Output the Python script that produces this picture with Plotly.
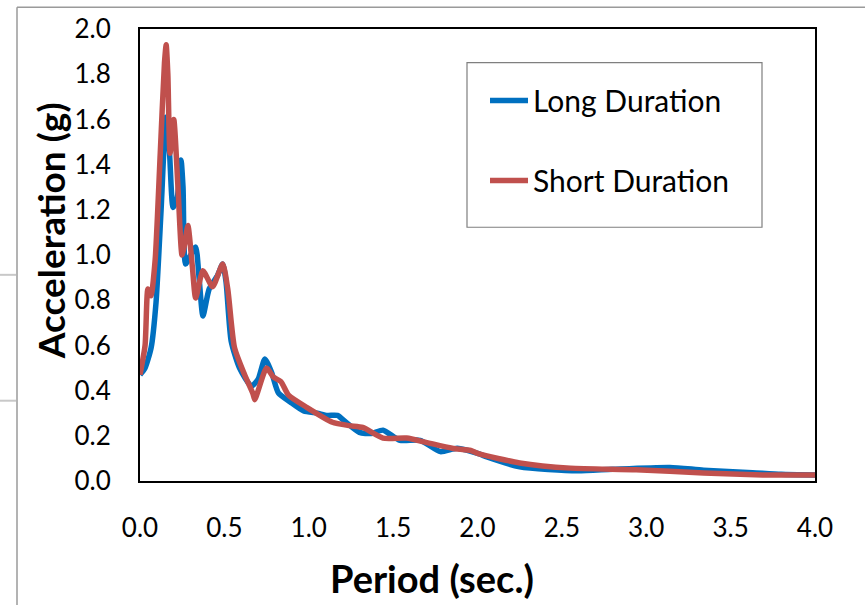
import plotly.graph_objects as go

# Long Duration (blue)
long_period = [0.0, 0.03, 0.066, 0.095, 0.125, 0.154, 0.175, 0.196, 0.22, 0.243, 0.255, 0.27, 0.3, 0.33, 0.35,
               0.373, 0.41, 0.46, 0.49, 0.51, 0.54, 0.59, 0.66, 0.7, 0.74, 0.78, 0.82, 0.89, 0.97, 1.05,
               1.11, 1.17, 1.22, 1.30, 1.37, 1.44, 1.54, 1.66, 1.78, 1.88, 2.01, 2.06, 2.25, 2.59, 2.80,
               3.14, 3.34, 3.63, 3.8, 4.0]
long_acc = [0.47, 0.50, 0.59, 0.79, 1.20, 1.61, 1.45, 1.21, 1.25, 1.42, 1.30, 0.96, 1.00, 1.035, 0.90,
            0.73, 0.85, 0.91, 0.96, 0.88, 0.62, 0.50, 0.42, 0.45, 0.54, 0.48, 0.39, 0.35, 0.31, 0.30,
            0.29, 0.29, 0.26, 0.215, 0.21, 0.225, 0.18, 0.18, 0.13, 0.145, 0.12, 0.105, 0.063, 0.045, 0.052,
            0.06, 0.048, 0.037, 0.03, 0.027]

# Short Duration (red)
short_period = [0.0, 0.03, 0.047, 0.065, 0.09, 0.12, 0.145, 0.155, 0.165, 0.178, 0.2, 0.225, 0.249, 0.265, 0.284,
                0.31, 0.33, 0.373, 0.43, 0.49, 0.52, 0.56, 0.62, 0.67, 0.68, 0.75, 0.79, 0.835, 0.88, 0.99,
                1.14, 1.24, 1.32, 1.44, 1.58, 1.70, 1.85, 1.96, 2.01, 2.25, 2.55, 2.94, 3.34, 3.69, 4.0]
short_acc = [0.47, 0.60, 0.85, 0.82, 0.98, 1.45, 1.85, 1.93, 1.80, 1.45, 1.60, 1.30, 1.00, 1.05, 1.13,
             0.95, 0.81, 0.93, 0.86, 0.96, 0.85, 0.59, 0.47, 0.385, 0.36, 0.50, 0.46, 0.44, 0.38, 0.325,
             0.26, 0.245, 0.237, 0.19, 0.19, 0.17, 0.145, 0.135, 0.12, 0.08, 0.057, 0.05, 0.035, 0.027, 0.027]

x_ticks = [0.0, 0.5, 1.0, 1.5, 2.0, 2.5, 3.0, 3.5, 4.0]
y_ticks = [0.0, 0.2, 0.4, 0.6, 0.8, 1.0, 1.2, 1.4, 1.6, 1.8, 2.0]

x_title = "Period (sec.)"
y_title = "Acceleration (g)"

FONT = "Lato"
BLUE = "#0070C0"
RED = "#C0504D"

fig = go.Figure()
fig.add_trace(go.Scatter(x=long_period, y=long_acc, mode="lines", name="Long Duration",
                         line=dict(color=BLUE, width=5.5, shape="spline", smoothing=0.6),
                         legendgroup="a"))
fig.add_trace(go.Scatter(x=short_period, y=short_acc, mode="lines", name="Short Duration",
                         line=dict(color=RED, width=5.5, shape="spline", smoothing=0.6),
                         legendgroup="b"))

L, R, T, B = 140, 50, 25, 125
W, H = 865, 606
pw, ph = W - L - R, H - T - B

def px(xp):
    return (xp - L) / pw

def py(yp):
    return (H - B - yp) / ph

fig.update_layout(
    width=W, height=H,
    margin=dict(l=L, r=R, t=T, b=B),
    paper_bgcolor="white", plot_bgcolor="white",
    font=dict(family=FONT, color="black"),
    showlegend=True,
    legend=dict(x=px(485), y=py(71), xanchor="left", yanchor="top",
                borderwidth=0, bgcolor="rgba(0,0,0,0)",
                font=dict(family=FONT, size=30, color="black"),
                tracegroupgap=38, itemwidth=38),
    xaxis=dict(range=[0, 4], tickvals=x_ticks, ticktext=[f"{v:.1f}" for v in x_ticks],
               showgrid=False, zeroline=False, showline=True, linecolor="black", linewidth=2,
               mirror=True, ticks="", ticklabelstandoff=23,
               tickfont=dict(family=FONT, size=26, color="black")),
    yaxis=dict(range=[0, 2], tickvals=y_ticks, ticktext=[f"{v:.1f}" for v in y_ticks],
               showgrid=False, zeroline=False, showline=True, linecolor="black", linewidth=2,
               mirror=True, ticks="", ticklabelstandoff=22,
               tickfont=dict(family=FONT, size=26, color="black")),
    annotations=[
        dict(text=f"<b>{x_title}</b>", xref="paper", yref="paper", x=px(432), y=py(579),
             xanchor="center", yanchor="middle", showarrow=False,
             font=dict(family=FONT, size=38, color="black")),
        dict(text=f"<b>{y_title}</b>", xref="paper", yref="paper", x=px(50), y=py(229),
             xanchor="center", yanchor="middle", showarrow=False, textangle=-90,
             font=dict(family=FONT, size=37, color="black")),
    ],
    shapes=[
        dict(type="rect", xref="paper", yref="paper", x0=px(467), x1=px(762), y0=py(59), y1=py(225),
             line=dict(color="#7f7f7f", width=1.2), fillcolor="rgba(0,0,0,0)", layer="below"),
        dict(type="line", xref="paper", yref="paper", x0=px(17), x1=px(17), y0=py(3), y1=py(606),
             line=dict(color="#9a9a9a", width=1.5)),
        dict(type="line", xref="paper", yref="paper", x0=px(17), x1=px(865), y0=py(3), y1=py(3),
             line=dict(color="#9a9a9a", width=1.5)),
        dict(type="line", xref="paper", yref="paper", x0=px(0), x1=px(16), y0=py(273), y1=py(273),
             line=dict(color="#c8c8c8", width=2)),
        dict(type="line", xref="paper", yref="paper", x0=px(0), x1=px(16), y0=py(400), y1=py(400),
             line=dict(color="#c8c8c8", width=2)),
    ],
)

fig.write_html("out.html")
